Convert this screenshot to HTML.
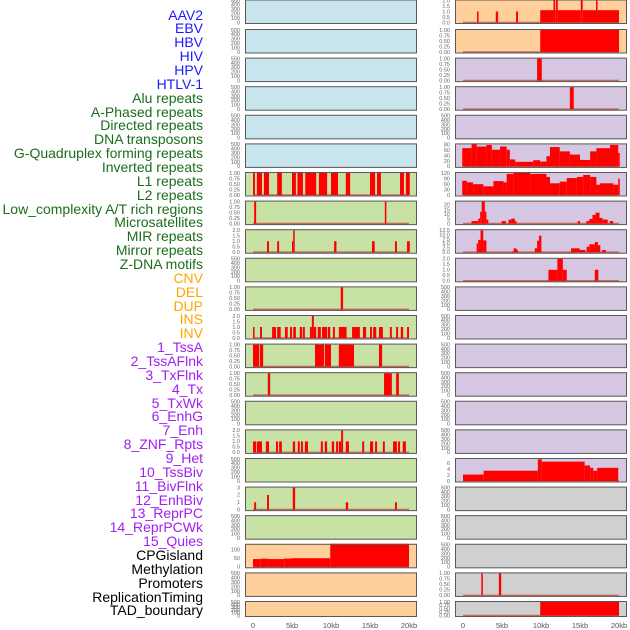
<!DOCTYPE html>
<html><head><meta charset="utf-8"><style>
body{margin:0;background:#fff;width:630px;height:630px;overflow:hidden;font-family:"Liberation Sans",sans-serif}
.lab{position:absolute;right:427px;font-size:14px;line-height:14px;white-space:nowrap}
</style></head><body>
<div id="labels"></div>
<svg id="chart" width="630" height="630" style="position:absolute;left:0;top:0"></svg>
<script>
const trackNames = ["AAV2","EBV","HBV","HIV","HPV","HTLV-1","Alu repeats","A-Phased repeats","Directed repeats","DNA transposons","G-Quadruplex forming repeats","Inverted repeats","L1 repeats","L2 repeats","Low_complexity A/T rich regions","Microsatellites","MIR repeats","Mirror repeats","Z-DNA motifs","CNV","DEL","DUP","INS","INV","1_TssA","2_TssAFlnk","3_TxFlnk","4_Tx","5_TxWk","6_EnhG","7_Enh","8_ZNF_Rpts","9_Het","10_TssBiv","11_BivFlnk","12_EnhBiv","13_ReprPC","14_ReprPCWk","15_Quies","CPGisland","Methylation","Promoters","ReplicationTiming","TAD_boundary"];
const labelColors = ["#1a1aff","#1a1aff","#1a1aff","#1a1aff","#1a1aff","#1a1aff","#1a6e1a","#1a6e1a","#1a6e1a","#1a6e1a","#1a6e1a","#1a6e1a","#1a6e1a","#1a6e1a","#1a6e1a","#1a6e1a","#1a6e1a","#1a6e1a","#1a6e1a","#ffa500","#ffa500","#ffa500","#ffa500","#ffa500","#a020f0","#a020f0","#a020f0","#a020f0","#a020f0","#a020f0","#a020f0","#a020f0","#a020f0","#a020f0","#a020f0","#a020f0","#a020f0","#a020f0","#a020f0","#000","#000","#000","#000","#000"];
const xTickValues = [0,5,10,15,20];
const xTickLabels = ["0","5kb","10kb","15kb","20kb"];
// segments: [start_kb, end_kb, value]
const segAlu = [[0,0.25,1],[0.5,1.15,1],[1.4,2.05,1],[3.1,3.7,1],[5.0,5.5,1],[5.7,6.4,1],[6.7,8.1,1],[8.45,9.5,1],[10.0,10.9,1],[11.9,12.45,1],[15.0,15.65,1],[15.9,16.4,1],[18.85,19.35,1],[19.6,20.1,1]];
const segAPhased = [[0.15,0.4,1],[16.9,17.1,1]];
const segDirected = [[1.8,2.05,1],[3.1,3.35,1],[5.0,5.15,1],[5.15,5.35,2],[10.4,10.7,1],[15.25,15.6,1],[18.2,18.45,1],[19.75,20.1,1]];
const segGQuad = [[11.25,11.55,1]];
const segInverted = [[0,0.2,1],[0.9,1.15,1],[2.45,2.95,1],[3.1,3.55,1],[4.1,4.45,1],[4.75,5.0,1],[5.15,5.5,1],[6.0,6.3,1],[6.4,6.65,1],[7.3,7.55,1],[7.55,7.8,2],[7.8,8.1,1],[8.3,8.7,1],[8.85,9.5,1],[9.6,9.9,1],[10.25,10.5,1],[11.0,12.0,1],[12.7,13.7,1],[14.1,14.5,1],[15.0,15.25,1],[15.4,15.8,1],[16.15,16.65,1],[17.55,17.8,1],[18.35,18.6,1],[18.95,19.25,1],[19.75,20.0,1]];
const segL1 = [[0,0.8,1],[0.9,1.3,1],[7.95,9.1,1],[9.2,10.0,1],[11.0,12.95,1],[16.15,16.55,1]];
const segL2 = [[1.9,2.2,1],[16.8,17.8,1],[18.35,18.7,1]];
const segMicro = [[0,0.4,1],[0.5,1.15,1],[1.65,2.05,1],[2.95,3.2,1],[3.35,3.7,1],[5.1,5.4,1],[5.75,6.0,1],[6.15,6.4,1],[6.65,7.05,1],[8.7,8.95,1],[9.2,9.5,1],[10.1,10.4,1],[10.65,10.9,1],[11.0,11.3,1],[11.3,11.55,2],[11.9,12.3,1],[14.0,14.25,1],[15.0,15.4,1],[15.65,15.9,1],[16.65,16.9,1],[17.95,18.45,1],[18.6,18.85,1],[19.2,19.6,1]];
const segMirror = [[0.15,0.4,1],[1.8,2.05,2],[5.1,5.4,3],[11.9,12.2,1],[18.2,18.45,1]];
const segCNV = [[0,1,45],[1,2,47],[2,4,45],[4,5,48],[5,9.9,50],[9.9,20,140]];
const segINS = [[1.8,2.0,1],[4.2,4.5,1],[6.8,7.05,1],[9.9,11.6,1.12],[11.6,11.8,2],[11.8,11.9,1.12],[11.9,12.15,2],[12.15,15.1,1.12],[15.1,15.35,2],[15.35,17.05,1.12],[17.05,17.25,2],[17.25,20,1.12]];
const segINV = [[9.9,20,1]];
const segTssA = [[9.5,10.1,1]];
const segTssAFlnk = [[13.7,14.2,1]];
const segTx = [[-0.1,1.1,68],[1.1,1.75,86],[1.75,3.0,74],[3.0,3.7,80],[3.7,4.75,62],[4.75,5.6,74],[5.6,6.0,62],[6.0,6.7,26],[6.7,9.0,17],[9.0,9.9,23],[9.9,10.7,18],[10.7,11.15,38],[11.15,12.4,72],[12.4,13.7,56],[13.7,15.0,44],[15.0,16.3,24],[16.3,17.1,56],[17.1,18.85,68],[18.85,19.9,80],[19.9,20.1,50]];
const segTxWk = [[-0.1,0.5,79],[0.5,1.3,70],[1.3,2.6,60],[2.6,3.9,48],[3.9,5.2,77],[5.2,5.6,70],[5.6,6.45,117],[6.45,8.6,122],[8.6,10.7,117],[10.7,11.15,100],[11.15,12.4,65],[12.4,13.3,74],[13.3,14.6,94],[14.6,15.4,100],[15.4,16.3,111],[16.3,17.1,100],[17.1,17.56,57],[17.56,19.27,65],[19.27,19.9,57],[19.9,20.1,91]];
const segEnhG = [[1.1,1.95,2.7],[1.95,2.2,5.3],[2.2,2.4,12.7],[2.4,2.8,24],[2.8,3.0,12.7],[3.0,3.25,4.3],[4.95,5.5,2.7],[5.85,6.2,4.3],[6.2,6.65,5.3],[6.65,6.85,2.7],[14.7,15.0,2.7],[15.8,16.2,2.7],[16.2,16.6,5],[16.6,17.0,9.3],[17.0,17.5,11.7],[17.5,17.9,6],[17.9,18.55,4.3],[18.8,19.25,2.7]];
const segEnh = [[1.75,1.95,4.9],[1.95,2.25,7],[2.25,2.6,12.5],[2.6,3.0,6.7],[6.25,6.5,0.4],[6.5,6.85,2.2],[6.85,7.05,1.3],[9.2,9.5,2.2],[9.5,9.75,6.5],[9.75,10.05,9.4],[13.85,14.95,2.2],[14.95,15.7,1.3],[15.85,16.2,3.1],[16.2,16.9,4.5],[16.9,17.3,5.8],[17.3,17.6,4],[17.85,18.3,1.3]];
const segZNF = [[10.95,12.1,1],[12.1,12.8,2],[12.8,13.3,1],[16.9,17.35,1]];
const segTssBiv = [[0,2.65,2.2],[2.65,9.6,3.5],[9.6,10.1,7.4],[10.1,15.6,6.6],[15.6,16.3,5.3],[16.3,16.7,4.5],[16.7,17.2,3.5],[17.2,19.9,4.5]];
const segPromoters = [[2.35,2.55,1],[4.6,4.9,1]];
const segTAD = [[9.9,20,1]];

const BLUE="#c8e4ec",GREEN="#c8e1a4",ORANGE="#ffcf9c",PURPLE="#d5c6e1",GRAY="#d0d0d0";
const T1=[0,0.25,0.5,0.75,1],T2=[0,0.5,1,1.5,2],TE=[0,100,200,300,400,500];
function P(bg,ymax,ticks,data){return {bg,ymax,ticks,data};}
const leftCol=[P(BLUE,500,TE,null),P(BLUE,500,TE,null),P(BLUE,500,TE,null),P(BLUE,500,TE,null),P(BLUE,500,TE,null),P(BLUE,500,TE,null),
P(GREEN,1,T1,segAlu),P(GREEN,1,T1,segAPhased),P(GREEN,2,T2,segDirected),P(GREEN,500,TE,null),P(GREEN,1,T1,segGQuad),P(GREEN,2,T2,segInverted),P(GREEN,1,T1,segL1),P(GREEN,1,T1,segL2),P(GREEN,500,TE,null),P(GREEN,2,T2,segMicro),P(GREEN,500,TE,null),P(GREEN,3,[0,1,2,3],segMirror),P(GREEN,500,TE,null),
P(ORANGE,128,[0,50,100],segCNV),P(ORANGE,500,TE,null),P(ORANGE,500,TE,null)];
const rightCol=[P(ORANGE,2,T2,segINS),P(ORANGE,1,T1,segINV),P(PURPLE,1,T1,segTssA),P(PURPLE,1,T1,segTssAFlnk),P(PURPLE,500,TE,null),
P(PURPLE,82,[0,20,40,60,80],segTx),P(PURPLE,122,[0,30,60,90,120],segTxWk),P(PURPLE,23.5,[0,5,10,15,20],segEnhG),P(PURPLE,12.5,[0,2.5,5,7.5,10,12.5],segEnh),P(PURPLE,2,T2,segZNF),
P(PURPLE,500,TE,null),P(PURPLE,500,TE,null),P(PURPLE,500,TE,null),P(PURPLE,500,TE,null),P(PURPLE,500,TE,null),P(PURPLE,500,TE,null),P(PURPLE,7.5,[0,2,4,6],segTssBiv),
P(GRAY,500,TE,null),P(GRAY,500,TE,null),P(GRAY,500,TE,null),P(GRAY,1,T1,segPromoters),P(GRAY,1,T1,segTAD)];

const lab=document.getElementById('labels');
trackNames.forEach((n,i)=>{const d=document.createElement('div');d.className='lab';d.style.top=(15+i*13.86-7.5)+'px';d.style.color=labelColors[i];d.textContent=n;


lab.appendChild(d);});

const NS="http://www.w3.org/2000/svg",svg=document.getElementById('chart');
function el(t,a,p){const e=document.createElementNS(NS,t);for(const k in a)e.setAttribute(k,a[k]);(p||svg).appendChild(e);return e;}
function fmt(v,ticks){const m=Math.max(...ticks);if(m===1)return v.toFixed(2);if(m===2||m===12.5)return v.toFixed(1);return String(v);}
function drawCol(col,px0,px1,x0){
 const xs=kb=>x0+kb*7.8;
 col.forEach((p,i)=>{
  const top=i===0?-0.5:29+(i-1)*28.6, h=i===21?16:(i===0?24.5:24.5);
  const ys=v=>top+1+(1-v/p.ymax)*(h-2.5);
  const g=el('g',{});
  
  
  el('rect',{x:px0,y:top,width:px1-px0,height:h,fill:p.bg},g);
  const cid='c'+px0+'_'+i;
  const cp=el('clipPath',{id:cid},g);el('rect',{x:px0,y:top,width:px1-px0,height:h},cp);
  if(p.data){
   el('line',{x1:xs(0),x2:xs(20),y1:ys(0),y2:ys(0),stroke:'#c86a5a','stroke-width':1.6},g);
   const bg=el('g',{'clip-path':'url(#'+cid+')'},g);
   p.data.forEach(s=>{const r=el('rect',{x:xs(s[0]),y:ys(s[2]),width:Math.max(0.8,xs(s[1])-xs(s[0])),height:ys(0)-ys(s[2]),fill:'#ff0000'},bg);
    
    });
  }
  el('rect',{x:px0+0.5,y:top+0.5,width:px1-px0-1,height:h-1,fill:'none',stroke:'#5a5a5a','stroke-width':1},g);
  p.ticks.forEach(t=>{const tx=el('text',{x:px0-5,y:ys(t)+1.8,'font-size':5.5,'text-anchor':'end',fill:'#666'},g);tx.textContent=fmt(t,p.ticks);
   
   });
 });
 xTickValues.forEach((v,k)=>{const t=el('text',{x:xs(v),y:628,'font-size':7.5,'text-anchor':'middle',fill:'#555'});t.textContent=xTickLabels[k];
  
  });
}
drawCol(leftCol,245,417,253);
drawCol(rightCol,455,627,463);
</script>
</body></html>
